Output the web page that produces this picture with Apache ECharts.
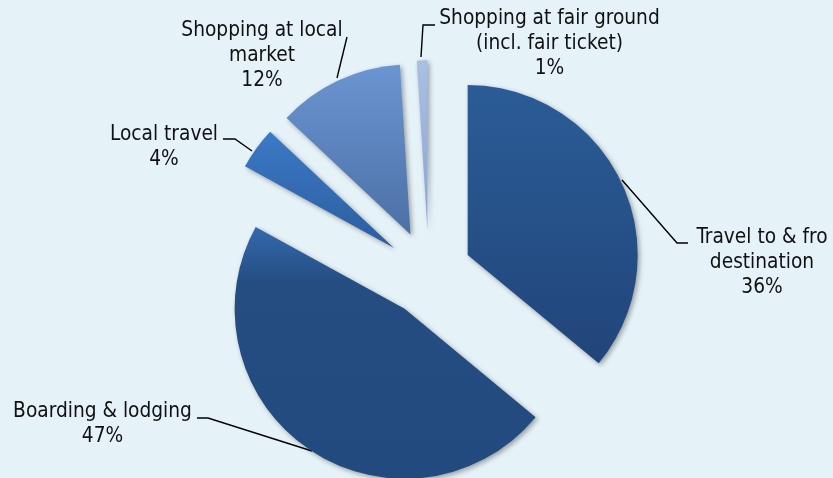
<!DOCTYPE html>
<html>
<head>
<meta charset="utf-8">
<script src="https://cdn.jsdelivr.net/npm/echarts@6/dist/echarts.min.js"></script>
<style>
  html, body { margin: 0; padding: 0; background: #e5f2f8; }
  #chart { width: 833px; height: 478px; }
</style>
</head>
<body>
<div id="chart"></div>
<script>
// Expense categories and their share of the total (percent)
const categories = [
  'Travel to & from\ndestination',
  'Boarding & lodging',
  'Local travel',
  'Shopping at local\nmarket',
  'Shopping at fair ground\n(incl. fair ticket)'
];
const shares = [36, 47, 4, 12, 1];

// Vertical gradient stops for each slice (top -> bottom)
const sliceGradients = [
  [[0, '#2b5c97'], [1, '#21457a']],
  [[0, '#3469ad'], [0.22, '#254d82'], [1, '#234a7e']],
  [[0, '#3c79c6'], [1, '#2c5d9f']],
  [[0, '#6b95d1'], [1, '#4c70a6']],
  [[0, '#aabfe4'], [1, '#8aa3cf']]
];

// Label anchors (centre of each text block) and leader-line paths
const labelAnchors = [[762, 263], [102.5, 424], [164, 147], [262, 55.5], [549.5, 43.5]];
const leaderPaths = [
  [[622, 180], [677, 243], [688, 243]],
  [[197, 418], [208, 418], [312, 451]],
  [[223, 139], [235, 139], [252, 151]],
  [[347, 37], [337, 78]],
  [[421, 57], [423, 25], [435, 25]]
];

const PIE_CENTER = [428.8, 273.3];
const PIE_RADIUS = 170;

const chart = echarts.init(document.getElementById('chart'), null, { renderer: 'canvas' });

// Exploded slices
const sliceData = categories.map((name, i) => ({
  name: name,
  value: shares[i],
  selected: true,
  itemStyle: {
    color: {
      type: 'linear', x: 0, y: 0, x2: 0, y2: 1,
      colorStops: sliceGradients[i].map(s => ({ offset: s[0], color: s[1] }))
    }
  }
}));

// Same values again, only to carry the data labels and leader lines
const labelData = categories.map((name, i) => {
  const item = { name: name, value: shares[i] };
  if (i === 0) {
    // the right-hand label runs past the chart edge
    item.label = { width: 134, overflow: 'truncate', ellipsis: '' };
  }
  return item;
});

chart.setOption({
  animation: false,
  backgroundColor: '#e5f2f8',
  series: [
    {
      type: 'pie',
      center: PIE_CENTER,
      radius: PIE_RADIUS,
      startAngle: 90,
      clockwise: true,
      selectedMode: 'multiple',
      selectedOffset: 43,
      silent: true,
      emphasis: { disabled: true },
      itemStyle: {
        shadowColor: 'rgba(0,0,0,0.35)',
        shadowBlur: 5,
        shadowOffsetX: 2,
        shadowOffsetY: 2
      },
      label: { show: false },
      labelLine: { show: false },
      data: sliceData
    },
    {
      type: 'pie',
      center: PIE_CENTER,
      radius: PIE_RADIUS,
      startAngle: 90,
      clockwise: true,
      silent: true,
      avoidLabelOverlap: false,
      emphasis: { disabled: true },
      itemStyle: { color: 'rgba(0,0,0,0)' },
      label: {
        show: true,
        position: 'outside',
        formatter: '{b}\n{c}%',
        color: '#111111',
        fontFamily: "'DejaVu Sans Condensed', 'Liberation Sans', sans-serif",
        fontSize: 20.7,
        lineHeight: 25,
        align: 'center'
      },
      labelLine: {
        show: true,
        lineStyle: { color: '#000000', width: 1.4 }
      },
      labelLayout: function (params) {
        const a = labelAnchors[params.dataIndex];
        return {
          x: a[0],
          y: a[1],
          align: 'center',
          verticalAlign: 'middle',
          labelLinePoints: leaderPaths[params.dataIndex]
        };
      },
      data: labelData
    }
  ]
});
</script>
</body>
</html>
